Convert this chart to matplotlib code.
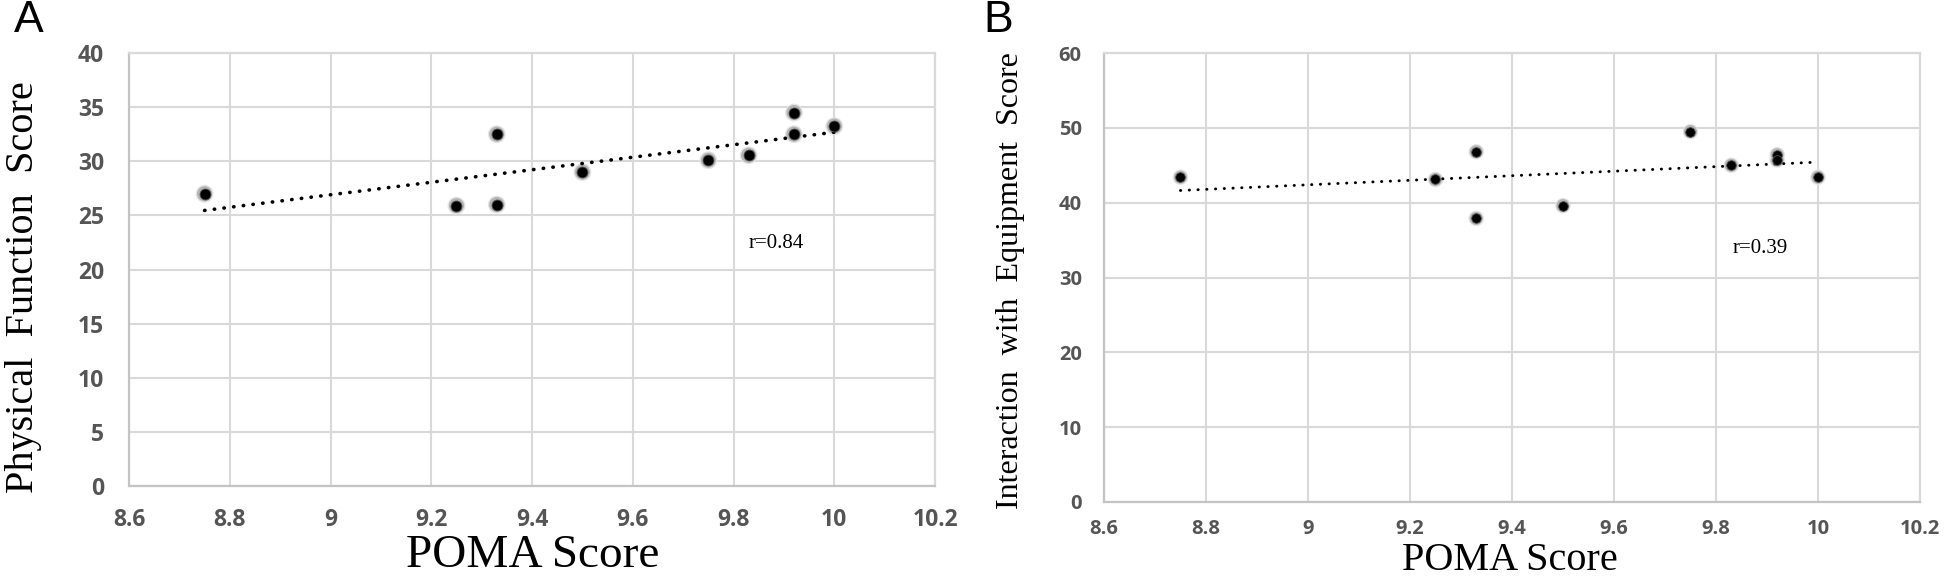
import numpy as np
import matplotlib
matplotlib.use("Agg")
import matplotlib.pyplot as plt

# ---- data ----
poma_a = [8.75, 9.25, 9.33, 9.33, 9.50, 9.75, 9.83, 9.92, 9.92, 10.0]
physical = [27.0, 25.9, 26.0, 32.5, 29.0, 30.1, 30.55, 34.5, 32.5, 33.25]

poma_b = [8.75, 9.25, 9.33, 9.33, 9.50, 9.75, 9.83, 9.92, 9.92, 10.0]
equipment = [43.4, 43.1, 46.8, 37.9, 39.6, 49.5, 45.0, 46.4, 45.7, 43.4]

x_ticks = [8.6, 8.8, 9.0, 9.2, 9.4, 9.6, 9.8, 10.0, 10.2]
x_tick_labels = ["8.6", "8.8", "9", "9.2", "9.4", "9.6", "9.8", "10", "10.2"]
y_ticks_a = [0, 5, 10, 15, 20, 25, 30, 35, 40]
y_ticks_b = [0, 10, 20, 30, 40, 50, 60]

r_a = "r=0.84"
r_b = "r=0.39"

# ---- style ----
GRID = "#d9d9d9"
TICKC = "#555555"
SERIF = ["Liberation Serif", "DejaVu Serif"]
SANS_T = ["Open Sans", "DejaVu Sans"]

fig = plt.figure(figsize=(19.46, 5.77), dpi=100)
axA = fig.add_axes([0.0663, 0.1577, 0.4142, 0.7504])
axB = fig.add_axes([0.5673, 0.1300, 0.4193, 0.7781])


def style_axes(ax, yticks, tsize, xpad, ypad):
    ax.set_xlim(8.6, 10.2)
    ax.set_ylim(yticks[0], yticks[-1])
    ax.set_xticks(x_ticks)
    ax.set_xticklabels(x_tick_labels)
    ax.set_yticks(yticks)
    ax.set_yticklabels([str(v) for v in yticks])
    ax.grid(True, color=GRID, linewidth=1.5, zorder=0)
    ax.set_axisbelow(True)
    for s in ax.spines.values():
        s.set_color(GRID)
        s.set_linewidth(1.6)
    ax.spines["bottom"].set_color("#c4c4c4")
    ax.spines["left"].set_color("#c4c4c4")
    ax.tick_params(axis="both", length=0, colors=TICKC)
    ax.tick_params(axis="x", pad=xpad)
    ax.tick_params(axis="y", pad=ypad)
    for lab in ax.get_xticklabels() + ax.get_yticklabels():
        lab.set_fontfamily(SANS_T)
        lab.set_fontweight("bold")
        lab.set_fontsize(tsize)
        lab.set_color(TICKC)


def draw(ax, xs, ys, core, halo, lw, period):
    xs = np.asarray(xs)
    ys = np.asarray(ys)
    m, b = np.polyfit(xs, ys, 1)
    xl = np.array([xs.min(), xs.max()])
    ax.plot(xl, m * xl + b, color="black", linewidth=lw,
            linestyle=(0, (0.1, period)), dash_capstyle="round", zorder=4)
    ax.scatter(xs, ys, s=halo, color="#e4e4e4", edgecolors="none", zorder=3)
    ax.scatter(xs, ys, s=halo * 0.72, color="#b4b4b4", edgecolors="none", zorder=3)
    ax.scatter(xs, ys, s=core, color="black", edgecolors="#505050",
               linewidths=0.6, zorder=5)


style_axes(axA, y_ticks_a, 16.5, 16, 18)
style_axes(axB, y_ticks_b, 14.5, 12, 16)

draw(axA, poma_a, physical, 62, 165, 2.6, 2.6)
draw(axB, poma_b, equipment, 48, 125, 2.1, 2.9)

axA.set_xlabel("POMA Score", fontfamily=SERIF, fontsize=34, color="black")
axA.xaxis.set_label_coords(0.501, -0.162)
axA.xaxis.label.set_va("center")
axA.set_ylabel("Physical  Function  Score", fontfamily=SERIF, fontsize=29,
               color="black", va="center")
axA.yaxis.set_label_coords(-0.1315, 0.46)

axB.set_xlabel("POMA Score", fontfamily=SERIF, fontsize=29, color="black")
axB.xaxis.set_label_coords(0.4975, -0.151)
axB.xaxis.label.set_va("baseline")
axB.set_ylabel("Interaction  with  Equipment  Score", fontfamily=SERIF,
               fontsize=23, color="black", va="center")
axB.yaxis.set_label_coords(-0.114, 0.493)

axA.text(0.803, 0.559, r_a, transform=axA.transAxes, fontfamily=SERIF,
         fontsize=15, ha="center", va="center", color="black")
axB.text(0.804, 0.564, r_b, transform=axB.transAxes, fontfamily=SERIF,
         fontsize=15, ha="center", va="center", color="black")

fig.text(29 / 1946, 1 - 21 / 577, "A", fontfamily=["Liberation Sans", "DejaVu Sans"],
         fontsize=32, ha="center", va="center", color="black")
fig.text(998 / 1946, 1 - 21 / 577, "B", fontfamily=["Liberation Sans", "DejaVu Sans"],
         fontsize=32, ha="center", va="center", color="black")

fig.savefig("out.png", dpi=100, facecolor="white")
